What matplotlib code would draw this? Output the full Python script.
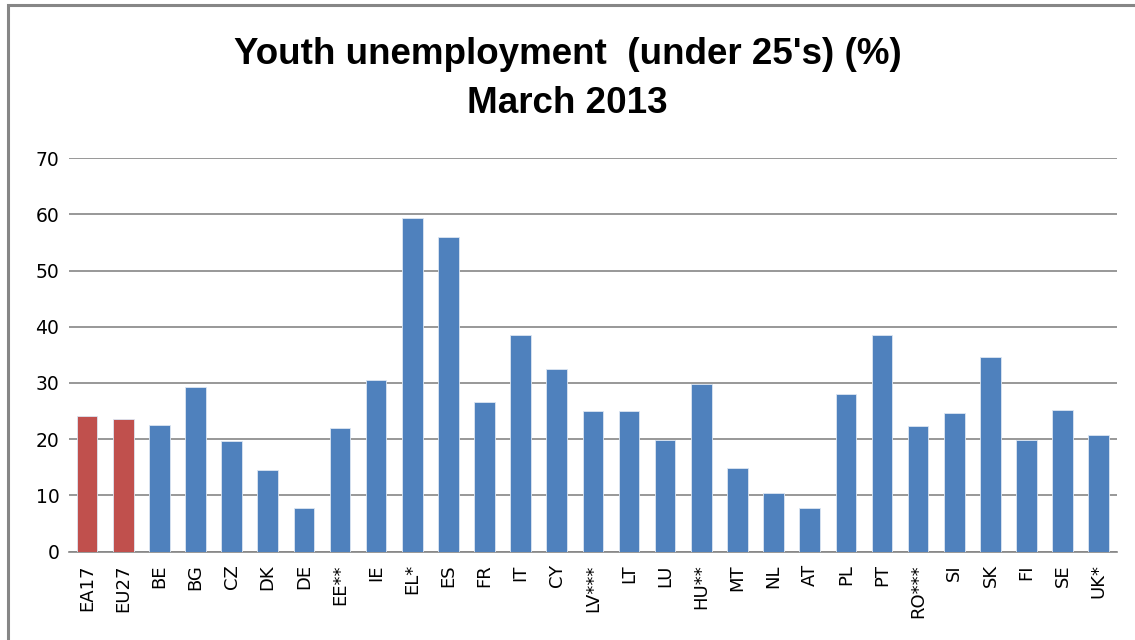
import numpy as np
import matplotlib.pyplot as plt
from matplotlib.patches import Rectangle

# Youth unemployment (under 25's), March 2013
countries = ['EA17', 'EU27', 'BE', 'BG', 'CZ', 'DK', 'DE', 'EE**', 'IE', 'EL*',
             'ES', 'FR', 'IT', 'CY', 'LV***', 'LT', 'LU', 'HU**', 'MT', 'NL',
             'AT', 'PL', 'PT', 'RO***', 'SI', 'SK', 'FI', 'SE', 'UK*']
rates = [24.1, 23.6, 22.5, 29.3, 19.6, 14.6, 7.7, 22.0, 30.5, 59.3,
         56.0, 26.6, 38.5, 32.4, 25.0, 25.0, 19.9, 29.9, 14.8, 10.5,
         7.7, 28.1, 38.5, 22.4, 24.6, 34.6, 19.9, 25.2, 20.7]
aggregates = ['EA17', 'EU27']

title_font = ['Liberation Sans', 'DejaVu Sans']

fig = plt.figure(figsize=(11.35, 6.4), dpi=100)
ax = fig.add_axes([0.0608, 0.138, 0.9232, 0.615])

x = np.arange(len(countries))
colors = ['#c0504d' if c in aggregates else '#4f81bd' for c in countries]
ax.bar(x, rates, width=0.57, color=colors, edgecolor='#dce6f2', linewidth=0.6, zorder=3)

ax.set_xlim(-0.5, len(countries) - 0.5)
ax.set_ylim(0, 70)
ax.set_yticks(range(0, 71, 10))
ax.grid(axis='y', color='#868686', linewidth=1.2, zorder=0)
ax.set_axisbelow(True)

for s in ['top', 'right', 'left']:
    ax.spines[s].set_visible(False)
ax.spines['bottom'].set_color('#868686')
ax.spines['bottom'].set_linewidth(1.2)

ax.set_xticks(x)
ax.set_xticklabels(countries, rotation=90, fontsize=13, family='DejaVu Sans')
ax.tick_params(axis='x', length=0, pad=9)
ax.tick_params(axis='y', length=0, pad=7, labelsize=13.5)

fig.text(0.5, 0.915, "Youth unemployment  (under 25's) (%)", ha='center', va='center',
         fontsize=26.5, fontweight='bold', family=title_font)
fig.text(0.5, 0.838, 'March 2013', ha='center', va='center',
         fontsize=26.5, fontweight='bold', family=title_font)

# chart-area border as in the spreadsheet export
fig.patches.append(Rectangle((0.007, -0.05), 1.1, 1.042, transform=fig.transFigure,
                             fill=False, edgecolor='#868686', linewidth=2.2))

fig.savefig('out.png', dpi=100)
